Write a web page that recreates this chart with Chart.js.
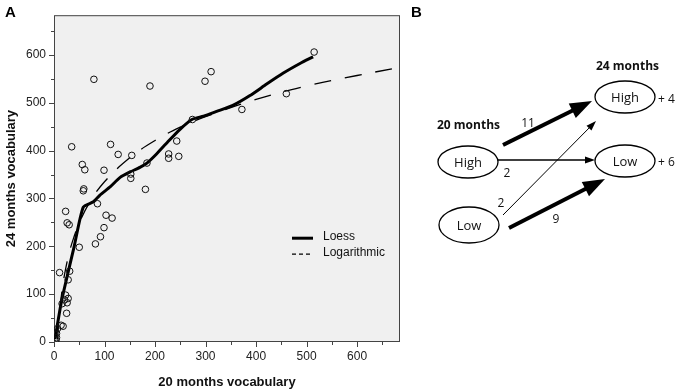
<!DOCTYPE html>
<html>
<head>
<meta charset="utf-8">
<script src="https://cdn.jsdelivr.net/npm/chart.js@4.4.0/dist/chart.umd.min.js"></script>
<style>
body { margin: 0; background: #fff; }
#wrap { position: relative; width: 680px; height: 391px; }
#myChart, #diagram { position: absolute; left: 0; top: 0; }
</style>
</head>
<body>
<div id="wrap">
<canvas id="myChart" width="410" height="391"></canvas>
<svg id="diagram" width="680" height="391"></svg>
</div>
<script>
// panel A: one point per child
const vocab20 = [79,190,299,311,515,460,372,274,243,227,227,247,184,181,154,152,152,112,127,99,
                 35,56,61,59,58,86,23,26,30,103,115,99,92,82,50,11,31,28,23,28,21,26,16,25,14,18,7,5,5,4];
const vocab24 = [549,535,545,565,606,519,486,465,420,393,384,388,374,319,390,351,342,413,392,359,
                 408,371,360,320,316,289,273,249,245,265,259,239,220,205,198,145,148,130,98,91,88,82,80,60,35,33,28,18,9,4];

// fitted lines
const loessX = [2,15,40,58,78,91,111,131,150,170,184,203,225,249,273,296,322,355,388,421,454,487,513];
const loessY = [6,86,200,282,293,307,324,344,355,365,374,393,418,444,465,472,482,495,515,539,562,582,596];
const logX = [7,10,15,20,30,40,50,70,100,150,200,250,300,400,500,600,670];
const logY = [5,50,100,136,186,221,249,291,335,385,421,449,471,507,535,557,571];

const tickLabels = [0,100,200,300,400,500,600];

// panel B
const nodeLabels = ['High', 'Low'];
const flowCounts = [11, 2, 2, 9];
const gains = ['+ 4', '+ 6'];

function toPoints(xs, ys) {
    pts = [];
    for (i = 0; i < xs.length; i++) pts.push({x: xs[i], y: ys[i]});
    return pts;
}

const framePlugin = {
    id: 'frame',
    beforeDatasetsDraw(chart) {
        const {ctx, chartArea: a, scales} = chart;
        ctx.save();
        ctx.fillStyle = '#f0f0f0';
        ctx.fillRect(a.left, a.top, a.right - a.left, a.bottom - a.top);
        ctx.strokeStyle = '#444';
        ctx.lineWidth = 1;
        ctx.strokeRect(a.left + 0.5, a.top + 0.5, a.right - a.left - 1, a.bottom - a.top - 1);
        ctx.beginPath();
        scales.x.ticks.forEach(t => {
            const px = Math.round(scales.x.getPixelForValue(t.value)) + 0.5;
            const len = t.value % 100 === 0 ? 5 : 3;
            ctx.moveTo(px, a.bottom);
            ctx.lineTo(px, a.bottom + len);
        });
        scales.y.ticks.forEach(t => {
            const py = Math.round(scales.y.getPixelForValue(t.value)) + 0.5;
            const len = t.value % 100 === 0 ? 5 : 3;
            ctx.moveTo(a.left, py);
            ctx.lineTo(a.left - len, py);
        });
        ctx.stroke();
        ctx.restore();
    },
    afterDraw(chart) {
        const {ctx, chartArea: a} = chart;
        const items = chart.data.datasets.slice(1);
        ctx.save();
        ctx.font = '12px "Liberation Sans", Arial, sans-serif';
        ctx.textBaseline = 'middle';
        ctx.fillStyle = '#111';
        items.forEach((ds, k) => {
            const y = a.top + 223 + k * 16;
            ctx.strokeStyle = '#000';
            ctx.lineWidth = k == 0 ? 3 : 1.2;
            ctx.setLineDash(k == 0 ? [] : [4, 3]);
            ctx.beginPath();
            ctx.moveTo(a.right - 108, y);
            ctx.lineTo(a.right - 87, y);
            ctx.stroke();
            ctx.fillText(ds.label, a.right - 77, y - 2);
        });
        ctx.restore();
    }
};

const tickFont = {family: '"Liberation Sans", Arial, sans-serif', size: 12};
const titleFont = {family: '"Liberation Sans", Arial, sans-serif', size: 13, weight: 'bold'};

new Chart(document.getElementById('myChart'), {
    type: 'scatter',
    data: {
        datasets: [
            {
                label: 'Children',
                data: toPoints(vocab20, vocab24),
                pointRadius: 3.3,
                borderWidth: 1,
                borderColor: '#111',
                backgroundColor: 'rgba(0,0,0,0)'
            },
            {
                label: 'Loess',
                data: toPoints(loessX, loessY),
                showLine: true,
                pointRadius: 0,
                borderWidth: 3,
                borderColor: '#000',
                tension: 0.2
            },
            {
                label: 'Logarithmic',
                data: toPoints(logX, logY),
                showLine: true,
                pointRadius: 0,
                borderWidth: 1.3,
                borderColor: '#000',
                borderDash: [17, 14],
                tension: 0.4
            }
        ]
    },
    options: {
        responsive: false,
        animation: false,
        devicePixelRatio: 1,
        layout: { padding: {top: 3, right: 10, left: 0, bottom: 0} },
        plugins: { legend: { display: false }, tooltip: { enabled: false } },
        scales: {
            x: {
                min: 0, max: 685,
                grid: { display: false, drawTicks: false },
                border: { display: false },
                afterFit: s => { s.height = 49; },
                ticks: {
                    stepSize: 50, includeBounds: false, autoSkip: false, maxRotation: 0,
                    padding: 7, color: '#222', font: tickFont,
                    callback: v => tickLabels.includes(v) ? v : ''
                },
                title: { display: true, text: '20 months vocabulary', color: '#111',
                         font: titleFont, padding: {top: 0, bottom: 1} }
            },
            y: {
                min: 0, max: 683,
                grid: { display: false, drawTicks: false },
                border: { display: false },
                afterFit: s => { s.width = 54; },
                ticks: {
                    stepSize: 50, includeBounds: false, autoSkip: false,
                    padding: 8, color: '#222', font: tickFont,
                    callback: v => tickLabels.includes(v) ? v : ''
                },
                title: { display: true, text: '24 months vocabulary', color: '#111',
                         font: titleFont, padding: {top: 4, bottom: 0} }
            }
        }
    },
    plugins: [framePlugin]
});

// panel B diagram
const svg = document.getElementById('diagram');
const NS = 'http://www.w3.org/2000/svg';
function add(tag, attrs, text) {
    const el = document.createElementNS(NS, tag);
    for (const k in attrs) el.setAttribute(k, attrs[k]);
    if (text !== undefined) el.textContent = text;
    svg.appendChild(el);
    return el;
}
const fontB = '"Open Sans", "Noto Sans", sans-serif';

function label(x, y, txt, size, bold, anchor) {
    add('text', {x: x, y: y, 'font-family': fontB, 'font-size': size,
        'font-weight': bold ? 'bold' : 'normal', 'text-anchor': anchor || 'middle',
        'dominant-baseline': 'central', fill: '#111'}, txt);
}
function node(cx, cy, ry, txt) {
    add('ellipse', {cx: cx, cy: cy, rx: 30, ry: ry, fill: '#fff', stroke: '#000', 'stroke-width': 1.3});
    label(cx, cy, txt, 13, false);
}
function arrow(x1, y1, x2, y2, w, hl, hw) {
    const len = Math.hypot(x2 - x1, y2 - y1);
    const ux = (x2 - x1) / len, uy = (y2 - y1) / len;
    const bx = x2 - ux * hl, by = y2 - uy * hl;
    add('line', {x1: x1, y1: y1, x2: bx + ux, y2: by + uy, stroke: '#000', 'stroke-width': w});
    const pts = [[x2, y2], [bx - uy * hw / 2, by + ux * hw / 2], [bx + uy * hw / 2, by - ux * hw / 2]];
    add('polygon', {points: pts.map(p => p.join(',')).join(' '), fill: '#000'});
}

add('text', {x: 5, y: 17, 'font-family': '"Liberation Sans", Arial, sans-serif', 'font-size': 15,
    'font-weight': 'bold', fill: '#000'}, 'A');
add('text', {x: 411, y: 17, 'font-family': '"Liberation Sans", Arial, sans-serif', 'font-size': 15,
    'font-weight': 'bold', fill: '#000'}, 'B');

label(437, 124, '20 months', 12, true, 'start');
label(596, 65, '24 months', 12, true, 'start');

node(468, 162, 16, nodeLabels[0]);
node(469, 225, 18, nodeLabels[1]);
node(625, 97, 16, nodeLabels[0]);
node(625, 161, 16, nodeLabels[1]);
label(658, 98, gains[0], 12, false, 'start');
label(658, 161, gains[1], 12, false, 'start');

arrow(503, 145, 592, 101, 4, 22, 16);
arrow(498, 160, 595, 160, 1.3, 10, 7);
arrow(503, 215, 596, 121, 1, 10, 7);
arrow(509, 228, 605, 179, 4, 22, 16);

label(528, 122, String(flowCounts[0]), 12, false);
label(507, 172, String(flowCounts[1]), 12, false);
label(501, 202, String(flowCounts[2]), 12, false);
label(556, 218, String(flowCounts[3]), 12, false);
</script>
</body>
</html>
